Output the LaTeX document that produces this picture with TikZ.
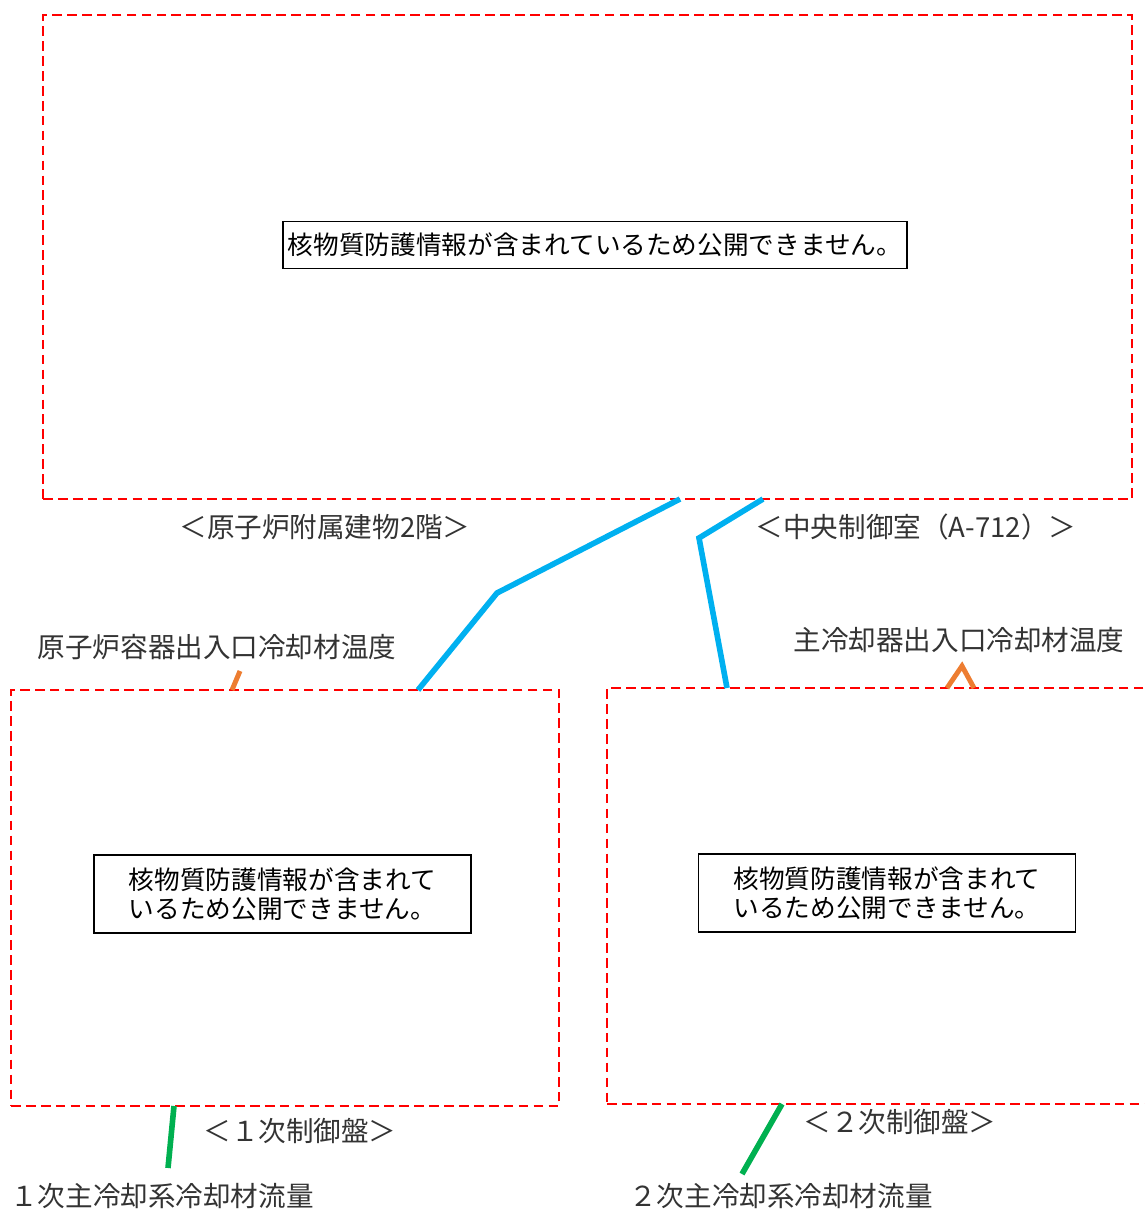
\documentclass[tikz,border=0pt]{standalone}
\usepackage{fontspec}
\newfontfamily\jpfont{Noto Sans CJK JP}
\usetikzlibrary{fit}
\definecolor{cableblue}{HTML}{00B0F0}
\definecolor{temporange}{HTML}{ED7D31}
\definecolor{flowgreen}{HTML}{00B050}

\begin{document}
\begin{tikzpicture}[
    x=0.02cm, y=-0.02cm,
    area/.style={draw=red, line width=1.1pt, dash pattern=on 5.5pt off 3pt, inner sep=0pt},
    notice/.style={draw=black, line width=1pt, fill=white, inner sep=0pt, align=center, font=\jpfont\fontsize{14.6}{16.5}\selectfont},
    tag/.style={inner sep=0pt, font=\jpfont\fontsize{15.7}{18}\selectfont, text=black!80},
    cable/.style={draw=cableblue, line width=3.2pt, line join=miter},
    tempwire/.style={draw=temporange, line width=2.8pt, line join=miter},
    flowwire/.style={draw=flowgreen, line width=3.2pt},
]
\useasboundingbox (0,0) rectangle (1145,1210);

% areas
\coordinate (rb-nw) at (43,15);    \coordinate (rb-se) at (1132,499);
\coordinate (p1-nw) at (11,690);   \coordinate (p1-se) at (559,1106);
\coordinate (p2-nw) at (607,688);  \coordinate (p2-se) at (1160,1104);
\node[area, fit=(rb-nw)(rb-se)] (mcr) {};
\node[area, fit=(p1-nw)(p1-se)] (panel1) {};
\node[area, fit=(p2-nw)(p2-se)] (panel2) {};

% notices
\node[notice, minimum width=12.48cm, minimum height=0.94cm] (hide0) at (595,245)
    {核物質防護情報が含まれているため公開できません。};
\node[notice, minimum width=7.54cm, minimum height=1.56cm] (hide1) at (282.5,894)
    {核物質防護情報が含まれて\\いるため公開できません。};
\node[notice, minimum width=7.54cm, minimum height=1.56cm] (hide2) at (887,893)
    {核物質防護情報が含まれて\\いるため公開できません。};

% place labels
\node[tag] (aux2f) at (325,527) {＜原子炉附属建物2階＞};
\node[tag] (a712) at (916,527) {＜中央制御室（A-712）＞};
\node[tag] (pnl1) at (300,1131) {＜１次制御盤＞};
\node[tag] (pnl2) at (900,1122) {＜２次制御盤＞};

% signal labels
\node[tag] (rvtemp) at (217,647) {原子炉容器出入口冷却材温度};
\node[tag] (ihxtemp) at (959,640) {主冷却器出入口冷却材温度};
\node[tag] (flow1) at (162,1196) {１次主冷却系冷却材流量};
\node[tag] (flow2) at (781,1196) {２次主冷却系冷却材流量};

% cables from control room
\coordinate (c1a) at (680,499); \coordinate (c1b) at (497,593); \coordinate (c1c) at (418,690);
\coordinate (c2a) at (763,499); \coordinate (c2b) at (699,538); \coordinate (c2c) at (727,688);
\draw[cable] (c1a) -- (c1b) -- (c1c);
\draw[cable] (c2a) -- (c2b) -- (c2c);

% temperature signals
\coordinate (t1a) at (232,690); \coordinate (t1b) at (240,671);
\draw[tempwire] (t1a) -- (t1b);
\coordinate (t2a) at (947,688); \coordinate (t2b) at (962,666); \coordinate (t2c) at (974,688);
\draw[tempwire] (t2a) -- (t2b) -- (t2c);

% flow signals
\coordinate (f1a) at (174,1106); \coordinate (f1b) at (168,1168);
\draw[flowwire] (f1a) -- (f1b);
\coordinate (f2a) at (782,1104); \coordinate (f2b) at (742,1174);
\draw[flowwire] (f2a) -- (f2b);
\end{tikzpicture}
\end{document}
